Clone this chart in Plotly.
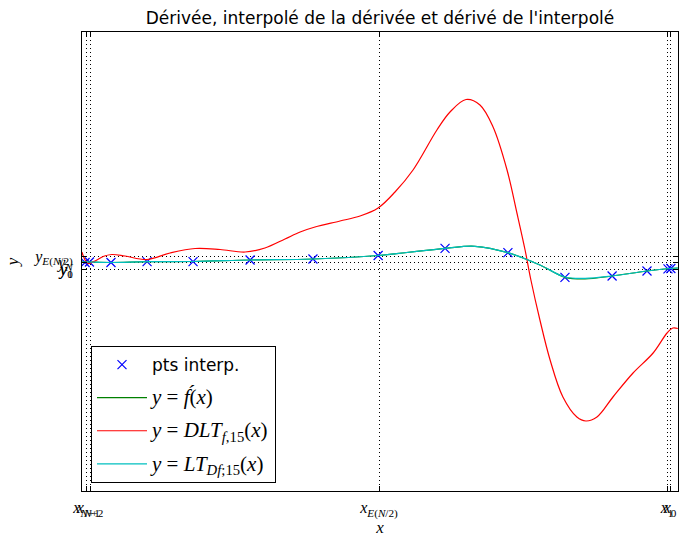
import plotly.graph_objects as go

# ---- data (arbitrary units) ----
red_x = [-1.021, -1.010, -1.000, -0.976, -0.948, -0.918, -0.873, -0.797, -0.718, -0.632,
         -0.546, -0.460, -0.392, -0.323, -0.271, -0.220, -0.134, -0.065, -0.003, 0.055,
         0.117, 0.199, 0.244, 0.299, 0.347, 0.392, 0.440, 0.474, 0.502, 0.522,
         0.553, 0.588, 0.632, 0.680, 0.711, 0.749, 0.804, 0.873, 0.942, 0.990,
         1.010, 1.027]
red_y = [1.0, 0.2, -0.15, 0.1, 0.55, 0.75, 0.6, 0.25, 0.9, 1.35,
         1.25, 1.0, 1.4, 2.3, 3.0, 3.5, 4.1, 4.6, 5.4, 7.0,
         9.2, 13.2, 15.0, 16.25, 15.7, 13.5, 9.2, 4.9, 1.2, -1.8,
         -5.8, -9.8, -13.5, -15.5, -15.9, -15.5, -13.5, -11.1, -9.1, -7.1,
         -6.6, -6.65]

green_x = [-1.021, -1.003, -0.921, -0.797, -0.639, -0.443, -0.227, -0.003, 0.227, 0.330,
           0.443, 0.553, 0.639, 0.708, 0.801, 0.921, 1.000, 1.027]
green_y = [0.0, 0.0, -0.05, 0.03, 0.05, 0.2, 0.3, 0.65, 1.37, 1.57,
           0.93, -0.3, -1.53, -1.70, -1.4, -0.9, -0.65, -0.6]
cyan_y = [0.0, 0.0, -0.05, 0.03, 0.05, 0.2, 0.3, 0.65, 1.37, 1.57,
          0.93, -0.3, -1.50, -1.64, -1.4, -0.9, -0.65, -0.6]

pts_x = [-1.010, -0.995, -0.921, -0.797, -0.639, -0.443, -0.227, -0.003, 0.227, 0.443,
         0.639, 0.801, 0.921, 0.993, 1.003]
pts_y = [-0.05, 0.0, -0.05, 0.03, 0.03, 0.2, 0.3, 0.65, 1.37, 0.93,
         -1.53, -1.4, -0.9, -0.68, -0.65]

xtick_vals = [-1.005, -0.993, 0.0, 0.990, 1.0]
xtick_text = ["<i>x</i><sub><i>N</i>+1</sub>", "<i>x</i><sub><i>N</i>+2</sub>",
              "<i>x</i><sub><i>E</i>(<i>N</i>/2)</sub>", "<i>x</i><sub>1</sub>", "<i>x</i><sub>0</sub>"]
ytick_vals = [0.55, -0.05, -0.71, -0.73]
ytick_text = ["<i>y</i><sub><i>E</i>(<i>N</i>/2)</sub>", "<i>y</i><sub><i>N</i></sub>",
              "<i>y</i><sub>1</sub>", "<i>y</i><sub>0</sub>"]

SERIF = "Liberation Serif"

def math(s):
    return '<span style="font-family:%s;font-size:21px">%s</span>' % (SERIF, s)

fig = go.Figure()
fig.add_trace(go.Scatter(x=pts_x, y=pts_y, mode="markers", name="pts interp.",
                         legendgroup="a",
                         marker=dict(symbol="x-thin", size=9, color="blue",
                                     line=dict(color="blue", width=1.2))))
fig.add_trace(go.Scatter(x=green_x, y=green_y, mode="lines", legendgroup="b",
                         name=math("<i>y</i> = <i>f\u0301</i>(<i>x</i>)"),
                         line=dict(color="#008000", width=1.2, shape="spline")))
fig.add_trace(go.Scatter(x=red_x, y=red_y, mode="lines", legendgroup="c",
                         name=math("<i>y</i> = <i>DLT</i><sub><i>f</i>,15</sub>(<i>x</i>)"),
                         line=dict(color="#ff0000", width=1.2, shape="spline")))
fig.add_trace(go.Scatter(x=green_x, y=cyan_y, mode="lines", legendgroup="d",
                         name=math("<i>y</i> = <i>LT</i><sub><i>Df</i>;15</sub>(<i>x</i>)"),
                         line=dict(color="#00bfbf", width=1.2, shape="spline")))

axis_common = dict(showline=True, linecolor="black", linewidth=1, mirror="ticks",
                   ticks="inside", ticklen=5, tickcolor="black",
                   showgrid=True, gridcolor="black", griddash="1px,3px", gridwidth=1,
                   zeroline=False, automargin=False, tickangle=0,
                   tickfont=dict(family=SERIF, size=16, color="black"))

fig.update_xaxes(range=[-1.0206, 1.0275], tickmode="array", tickvals=xtick_vals,
                 ticktext=xtick_text, ticklabelstandoff=2,
                 title=dict(text="<i>x</i>", font=dict(family=SERIF, size=17, color="black"),
                            standoff=6),
                 **axis_common)
fig.update_yaxes(range=[-22.9, 23.0], tickmode="array", tickvals=ytick_vals,
                 ticktext=ytick_text, ticklabelstandoff=5,
                 title=dict(text="<i>y</i>", font=dict(family=SERIF, size=17, color="black"),
                            standoff=10),
                 **axis_common)

fig.update_layout(
    width=684, height=537,
    margin=dict(l=82, r=6, t=32, b=46),
    paper_bgcolor="white", plot_bgcolor="white",
    title=dict(text="Dérivée, interpolé de la dérivée et dérivé de l'interpolé",
               xref="paper", x=0.5, xanchor="center", y=0.966, yanchor="middle",
               font=dict(family="DejaVu Sans", size=17, color="black")),
    font=dict(family="DejaVu Sans", size=17, color="black"),
    legend=dict(x=0.0151, y=0.0174, xanchor="left", yanchor="bottom",
                bordercolor="black", borderwidth=1, bgcolor="white",
                traceorder="grouped", tracegroupgap=8, itemwidth=50,
                font=dict(family="DejaVu Sans", size=17, color="black")),
)

fig.write_html("out.html")
